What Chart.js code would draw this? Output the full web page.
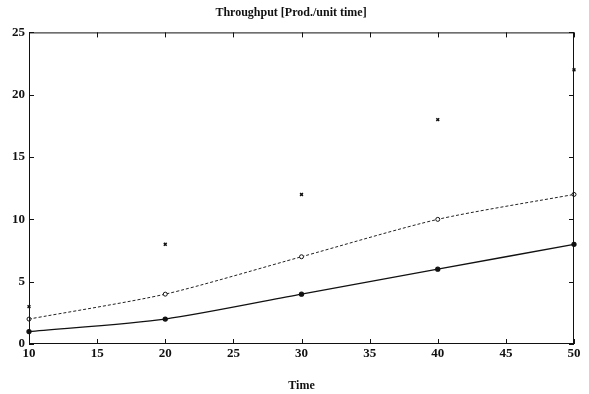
<!DOCTYPE html>
<html>
<head>
<meta charset="utf-8">
<script src="https://cdn.jsdelivr.net/npm/chart.js@4"></script>
<style>
  body { margin: 0; background: #fff; }
  canvas { display: block; }
</style>
</head>
<body>
<canvas id="chart" width="589" height="394"></canvas>
<script>
const times = [10, 20, 30, 40, 50];
const lowerSeries = [1, 2, 4, 6, 8];
const middleSeries = [2, 4, 7, 10, 12];
const upperSeries = [3, 8, 12, 18, 22];

// ticks pointing inward on all four sides, plus the frame
const frameTicks = {
  id: 'frameTicks',
  afterDraw(chart) {
    const ctx = chart.ctx;
    const a = chart.chartArea;
    const xs = chart.scales.x;
    const ys = chart.scales.y;
    ctx.save();
    ctx.strokeStyle = '#111';
    ctx.lineWidth = 1;
    ctx.strokeRect(a.left + 0.5, a.top + 0.5, a.right - a.left - 1, a.bottom - a.top - 1);
    ctx.beginPath();
    xs.ticks.forEach(t => {
      const px = Math.round(xs.getPixelForValue(t.value)) + 0.5;
      ctx.moveTo(px, a.bottom); ctx.lineTo(px, a.bottom - 5);
      ctx.moveTo(px, a.top); ctx.lineTo(px, a.top + 5);
    });
    ys.ticks.forEach(t => {
      const py = Math.round(ys.getPixelForValue(t.value)) + 0.5;
      ctx.moveTo(a.left, py); ctx.lineTo(a.left + 5, py);
      ctx.moveTo(a.right, py); ctx.lineTo(a.right - 5, py);
    });
    ctx.stroke();
    ctx.restore();
  }
};

const serif = 'Liberation Serif';

new Chart(document.getElementById('chart').getContext('2d'), {
  type: 'line',
  data: {
    labels: times,
    datasets: [
      {
        data: lowerSeries.map((v, i) => ({ x: times[i], y: v })),
        borderColor: '#111',
        borderWidth: 1.3,
        pointRadius: 2,
        pointBackgroundColor: '#111',
        pointBorderColor: '#111',
        tension: 0.25,
        clip: false
      },
      {
        data: middleSeries.map((v, i) => ({ x: times[i], y: v })),
        borderColor: '#222',
        borderWidth: 1,
        borderDash: [3, 2],
        pointRadius: 2,
        pointBackgroundColor: '#fff',
        pointBorderColor: '#111',
        pointBorderWidth: 1,
        tension: 0.25,
        clip: false
      },
      {
        data: upperSeries.map((v, i) => ({ x: times[i], y: v })),
        showLine: false,
        pointStyle: 'crossRot',
        pointRadius: 2,
        pointBorderColor: '#111',
        pointBorderWidth: 1.5,
        clip: false
      }
    ]
  },
  options: {
    responsive: false,
    animation: false,
    layout: { padding: { left: 8, right: 15, top: 0, bottom: 1 } },
    plugins: {
      legend: { display: false },
      tooltip: { enabled: false },
      title: {
        display: true,
        text: 'Throughput [Prod./unit time]',
        color: '#111',
        font: { family: serif, size: 12, weight: 'bold' },
        padding: { top: 6, bottom: 12 }
      }
    },
    scales: {
      x: {
        type: 'linear',
        min: 10,
        max: 50,
        ticks: { stepSize: 5, color: '#111', font: { family: serif, size: 13, weight: 'bold' }, padding: 2, maxRotation: 0 },
        grid: { drawOnChartArea: false, drawTicks: false },
        border: { display: false },
        title: { display: true, text: 'Time', color: '#111', font: { family: serif, size: 12, weight: 'bold' }, padding: { top: 15, bottom: 0 } }
      },
      y: {
        min: 0,
        max: 25,
        ticks: { stepSize: 5, color: '#111', font: { family: serif, size: 13, weight: 'bold' }, padding: 4 },
        grid: { drawOnChartArea: false, drawTicks: false },
        border: { display: false }
      }
    }
  },
  plugins: [frameTicks]
});
</script>
</body>
</html>
